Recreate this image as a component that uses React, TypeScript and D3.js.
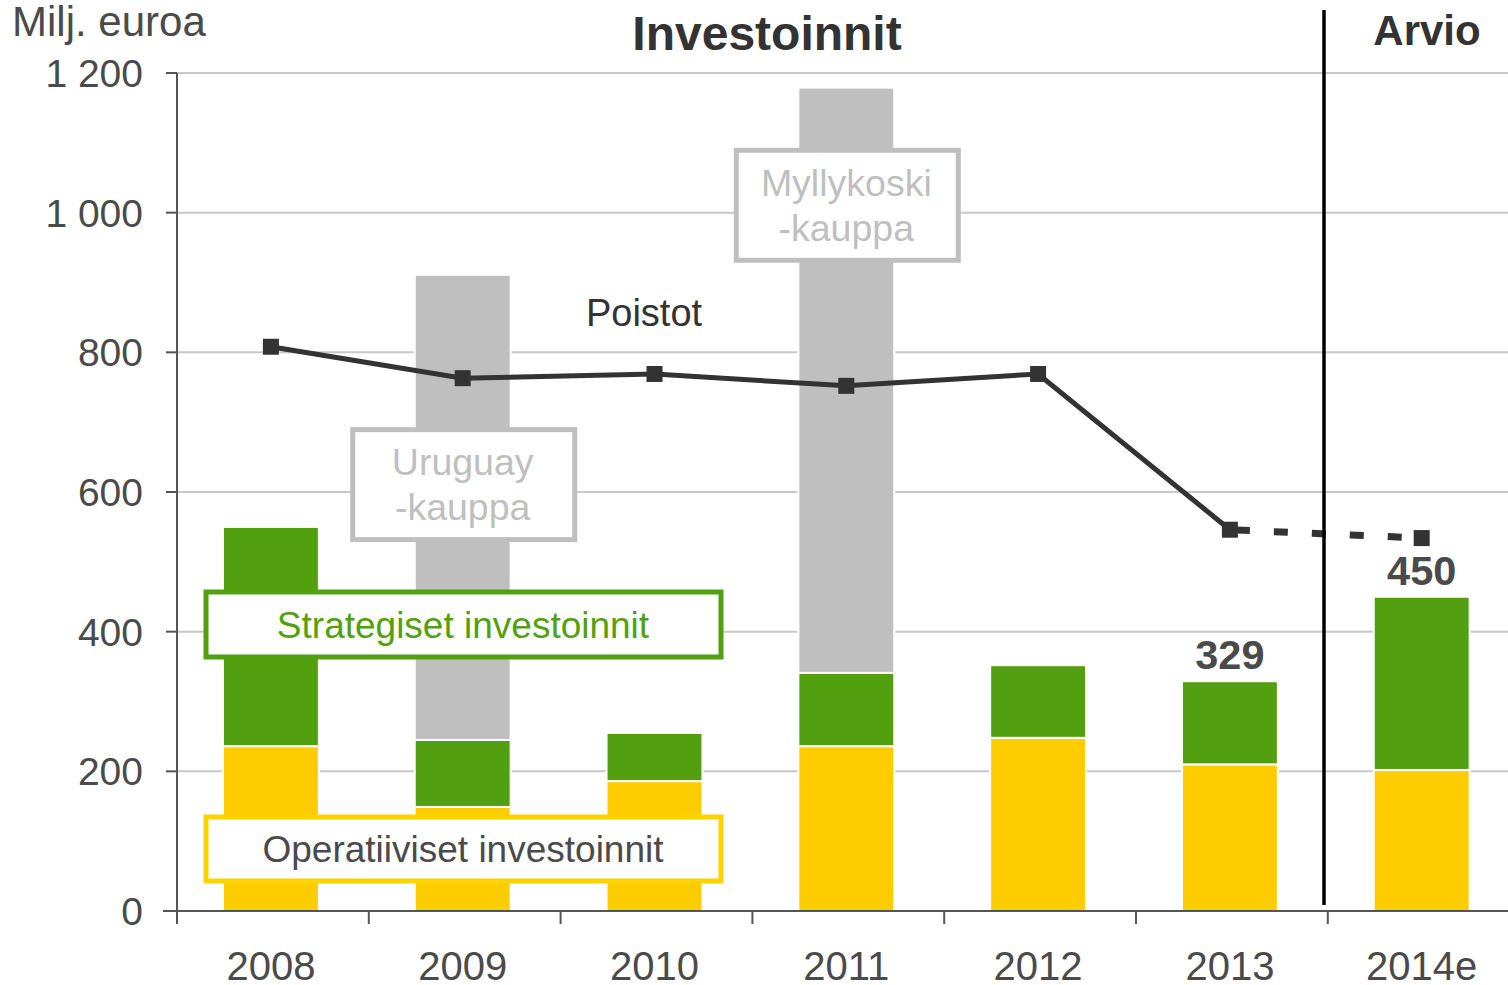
import React from "react";
import * as d3 from "d3";

const years = ["2008", "2009", "2010", "2011", "2012", "2013", "2014e"];
const operative = [236, 149, 186, 236, 248, 210, 202];
const strategic = [314, 96, 69, 105, 104, 119, 248];
const acquisitions = [0, 666, 0, 838, 0, 0, 0];
const depreciation = [808, 763, 769, 752, 769, 546, 534];
const yTicks = [0, 200, 400, 600, 800, 1000, 1200];
const totalLabels = [
  { year: "2013", value: 329 },
  { year: "2014e", value: 450 },
];
const dealLabels = [
  { year: "2009", lines: ["Uruguay", "-kauppa"], value: 612 },
  { year: "2011", lines: ["Myllykoski", "-kauppa"], value: 1012 },
];

const W = 1508;
const H = 985;
const GREEN = "#52a00f";
const YELLOW = "#ffcc00";
const GREY = "#bfbfbf";
const TEXT = "#4a4a4a";
const FONT = "'Liberation Sans', Arial, sans-serif";

const fmt = (v: number) => d3.format(",")(v).replace(",", " ");

export default function App() {
  const x = d3
    .scaleBand<string>()
    .domain(years)
    .range([175, 175 + 7 * 191.8])
    .paddingInner(0.5)
    .paddingOuter(0.25);
  const y = d3.scaleLinear().domain([0, 1200]).range([911, 73]);
  const cx = (yr: string) => (x(yr) ?? 0) + x.bandwidth() / 2;
  const step = x.step();
  const boundaries = d3.range(years.length).map((i) => 177 + i * step);

  const solid = d3
    .line<number>()
    .x((_, i) => cx(years[i]))
    .y((d) => y(d));
  const splitIdx = years.length - 2;

  return (
    <svg width={W} height={H} style={{ display: "block", position: "absolute", left: 0, top: 0 }} fontFamily={FONT}>
      <rect width={W} height={H} fill="#fff" />
      {/* grid */}
      {yTicks.slice(1).map((t) => (
        <line key={t} x1={177} x2={W} y1={y(t)} y2={y(t)} stroke="#c8c8c8" strokeWidth={2} />
      ))}
      {/* bars */}
      {years.map((yr, i) => {
        const bx = x(yr) ?? 0;
        const bw = x.bandwidth();
        const o = operative[i];
        const s = strategic[i];
        const a = acquisitions[i];
        return (
          <g key={yr} stroke="#fff" strokeWidth={2}>
            <rect x={bx} width={bw} y={y(o)} height={y(0) - y(o)} fill={YELLOW} />
            <rect x={bx} width={bw} y={y(o + s)} height={y(o) - y(o + s)} fill={GREEN} />
            {a > 0 && <rect x={bx} width={bw} y={y(o + s + a)} height={y(o + s) - y(o + s + a)} fill={GREY} />}
          </g>
        );
      })}
      {/* axes */}
      <line x1={177} x2={177} y1={73} y2={911} stroke="#555" strokeWidth={2} />
      {yTicks.map((t) => (
        <g key={t}>
          <line x1={166} x2={177} y1={y(t)} y2={y(t)} stroke="#555" strokeWidth={2} />
          <text x={143} y={y(t)} dy="0.36em" textAnchor="end" fontSize={39} fill={TEXT}>
            {fmt(t)}
          </text>
        </g>
      ))}
      <line x1={163} x2={W} y1={911} y2={911} stroke="#555" strokeWidth={2} />
      {boundaries.map((b, i) => (
        <line key={i} x1={b} x2={b} y1={911} y2={924} stroke="#555" strokeWidth={2} />
      ))}
      {years.map((yr) => (
        <text key={yr} x={cx(yr)} y={980} textAnchor="middle" fontSize={40} fill={TEXT}>
          {yr}
        </text>
      ))}
      {/* depreciation line */}
      <path d={solid(depreciation.slice(0, splitIdx + 1)) ?? ""} fill="none" stroke="#333" strokeWidth={5} />
      <line
        x1={cx(years[splitIdx])}
        y1={y(depreciation[splitIdx])}
        x2={cx(years[splitIdx + 1])}
        y2={y(depreciation[splitIdx + 1])}
        stroke="#333"
        strokeWidth={7}
        strokeDasharray="14 24"
        strokeDashoffset={-6}
      />
      {depreciation.map((d, i) => (
        <rect key={i} x={cx(years[i]) - 8} y={y(d) - 8} width={16} height={16} fill="#333" />
      ))}
      <text x={644} y={312} dy="0.36em" textAnchor="middle" fontSize={38} fill="#333">
        Poistot
      </text>
      {/* deal labels */}
      {dealLabels.map((d) => {
        const c = cx(d.year);
        const cy = y(d.value);
        return (
          <g key={d.year}>
            <rect x={c - 110} y={cy - 54} width={222} height={110} fill="#fff" stroke={GREY} strokeWidth={5} />
            <text x={c} y={cy - 22} dy="0.36em" textAnchor="middle" fontSize={37.5} fill={GREY}>
              {d.lines[0]}
            </text>
            <text x={c} y={cy + 23} dy="0.36em" textAnchor="middle" fontSize={37.5} fill={GREY}>
              {d.lines[1]}
            </text>
          </g>
        );
      })}
      {/* series labels */}
      <rect x={206} y={592} width={515} height={65} fill="#fff" stroke={GREEN} strokeWidth={5} />
      <text x={463} y={625} dy="0.36em" textAnchor="middle" fontSize={37} fill={GREEN}>
        Strategiset investoinnit
      </text>
      <rect x={206} y={817} width={515} height={64} fill="#fff" stroke="#ffd200" strokeWidth={5} />
      <text x={463} y={849} dy="0.36em" textAnchor="middle" fontSize={37} fill={TEXT}>
        Operatiiviset investoinnit
      </text>
      {/* totals */}
      {totalLabels.map((t) => (
        <text key={t.year} x={cx(t.year)} y={y(t.value) - 27} dy="0.36em" textAnchor="middle" fontSize={41.5} fontWeight="bold" fill={TEXT}>
          {t.value}
        </text>
      ))}
      {/* forecast divider */}
      <line x1={1324} x2={1324} y1={10} y2={905} stroke="#000" strokeWidth={3.5} />
      <text x={767} y={50} textAnchor="middle" fontSize={48} fontWeight="bold" fill="#333">
        Investoinnit
      </text>
      <text x={1427} y={45} textAnchor="middle" fontSize={42} fontWeight="bold" fill="#333">
        Arvio
      </text>
      <text x={12} y={36} fontSize={42} fill={TEXT}>
        Milj. euroa
      </text>
    </svg>
  );
}
